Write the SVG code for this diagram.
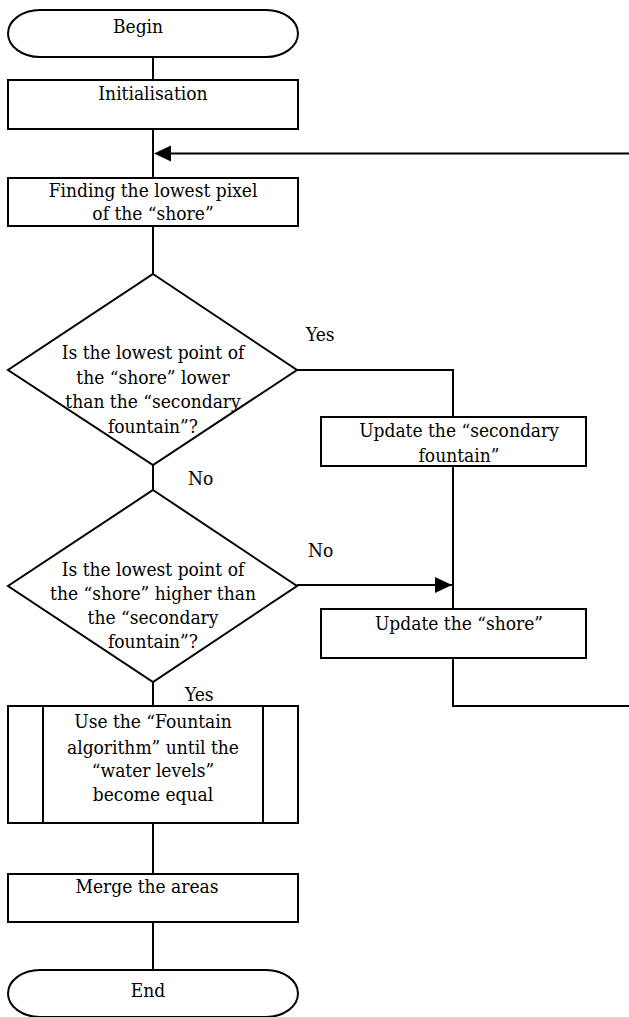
<svg xmlns="http://www.w3.org/2000/svg" width="629" height="1017" viewBox="0 0 629 1017">
<style>
.s{fill:#fff;stroke:#000;stroke-width:2}
.c{fill:none;stroke:#000;stroke-width:2}
text{font-family:'DejaVu Serif Condensed','DejaVu Serif',serif;font-stretch:condensed;font-size:19px;fill:#000;text-anchor:middle}
.l{text-anchor:start}
</style>
<defs>
<marker id="ah" markerWidth="17" markerHeight="16" refX="17" refY="8" orient="auto" markerUnits="userSpaceOnUse">
<path d="M0,0 L17,8 L0,16 Z" fill="#000"/>
</marker>
</defs>
<g id="connectors">
<path class="c" d="M153,57 V80"/>
<path class="c" d="M153,129 V178"/>
<path class="c" d="M153,226 V274"/>
<path class="c" d="M153,465 V490"/>
<path class="c" d="M153,682 V706"/>
<path class="c" d="M153,823 V874"/>
<path class="c" d="M153,922 V970"/>
<path class="c" d="M297,370 H453 V417"/>
<path class="c" d="M453,466 V609"/>
<path class="c" d="M297,585 H452" marker-end="url(#ah)"/>
<path class="c" d="M453,658 V706 H640 V153.5 H170"/>
<path d="M154,153.5 L171,145.5 L171,161.5 Z" fill="#000"/>
<text class="l" x="306" y="341">Yes</text>
<text class="l" x="188" y="485">No</text>
<text class="l" x="308" y="557">No</text>
<text class="l" x="185" y="701">Yes</text>
</g>
<g id="begin">
<rect class="s" x="8" y="10" width="290" height="47" rx="32" ry="23.5"/>
<text x="138" y="33">Begin</text>
</g>
<g id="init">
<rect class="s" x="8" y="80" width="290" height="49"/>
<text x="153" y="100">Initialisation</text>
</g>
<g id="find">
<rect class="s" x="8" y="178" width="290" height="48"/>
<text x="153" y="197">Finding the lowest pixel</text>
<text x="153" y="220">of the “shore”</text>
</g>
<g id="dec1">
<path class="s" d="M153,274 L297,370 L153,465 L8,370 Z"/>
<text x="153" y="359">Is the lowest point of</text>
<text x="153" y="384">the “shore” lower</text>
<text x="153" y="408">than the “secondary</text>
<text x="153" y="433">fountain”?</text>
</g>
<g id="upd-sec">
<rect class="s" x="321" y="417" width="265" height="49"/>
<text x="459" y="437">Update the “secondary</text>
<text x="459" y="462">fountain”</text>
</g>
<g id="dec2">
<path class="s" d="M153,490 L297,586 L153,682 L8,586 Z"/>
<text x="153" y="576">Is the lowest point of</text>
<text x="153" y="600">the “shore” higher than</text>
<text x="153" y="624">the “secondary</text>
<text x="153" y="648">fountain”?</text>
</g>
<g id="upd-shore">
<rect class="s" x="321" y="609" width="265" height="49"/>
<text x="459" y="630">Update the “shore”</text>
</g>
<g id="fountain">
<rect class="s" x="8" y="706" width="290" height="117"/>
<path class="c" d="M43,706 V823 M263,706 V823"/>
<text x="153" y="728">Use the “Fountain</text>
<text x="153" y="754">algorithm” until the</text>
<text x="153" y="777">“water levels”</text>
<text x="153" y="801">become equal</text>
</g>
<g id="merge">
<rect class="s" x="8" y="874" width="290" height="48"/>
<text x="147" y="893">Merge the areas</text>
</g>
<g id="end">
<rect class="s" x="8" y="970" width="290" height="47" rx="32" ry="23.5"/>
<text x="148" y="997">End</text>
</g>
</svg>
